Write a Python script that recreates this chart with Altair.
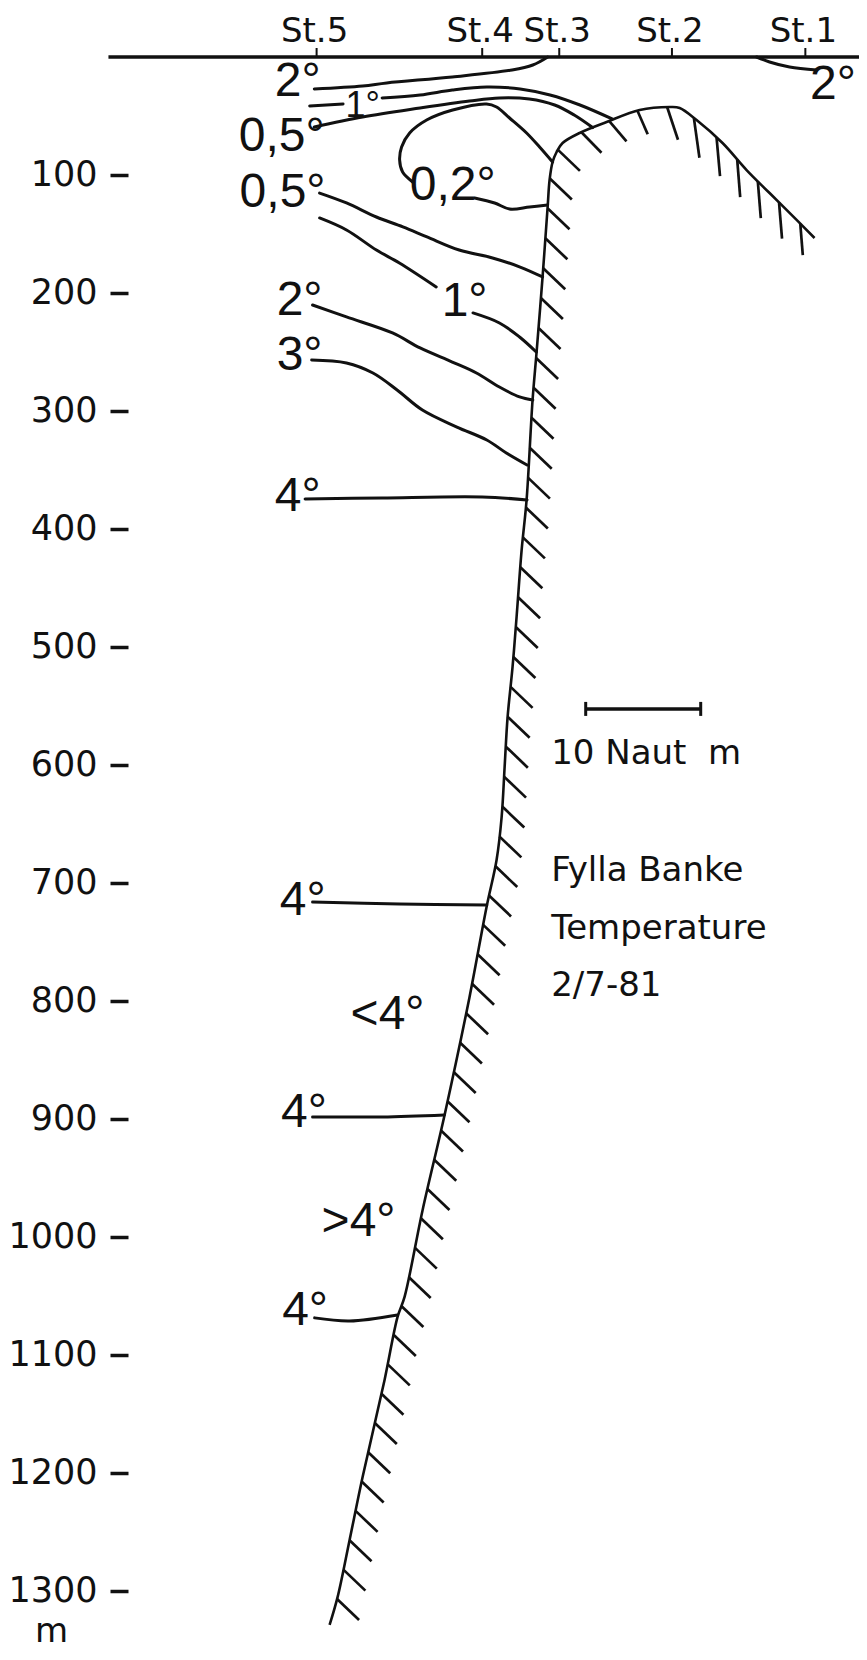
import altair as alt
import numpy as np
import pandas as pd

# ---------------- values ----------------
# horizontal: nautical miles east of St.5 ; vertical: depth in metres
station_names = ["St.5", "St.4", "St.3", "St.2", "St.1"]
station_nm = [0.0, 14.4, 21.1, 30.9, 42.5]

surface_nm = [-18.1, 48.5]

depth_ticks = [100, 200, 300, 400, 500, 600, 700, 800, 900, 1000, 1100, 1200, 1300]

# sea floor: bank slope from the deep end up, over the top of the bank
bottom_nm = [1.13, 1.83, 2.87, 4.00, 5.91, 7.04, 7.65, 9.22, 11.13, 13.30, 14.78, 15.65,
             16.09, 16.35, 16.61, 17.04, 17.39, 17.83, 18.26, 18.78, 19.13, 19.65, 20.09,
             20.26, 20.52, 20.87, 21.39, 22.87, 25.22, 28.09, 30.70, 31.57, 33.04, 35.30,
             37.39, 39.39, 41.74, 43.30]
bottom_m = [1328.8, 1305.1, 1256.8, 1203.4, 1121.2, 1067.8, 1050.8, 977.1, 896.6, 796.6,
            720.3, 680.5, 644.1, 601.7, 559.3, 516.9, 474.6, 417.8, 375.4, 290.7, 250.0,
            186.4, 127.1, 104.2, 89.0, 80.5, 72.9, 64.4, 55.1, 44.9, 42.4, 43.2, 53.4,
            72.9, 95.8, 115.3, 138.1, 153.4]

# isotherms (each piece of line between labels)
iso_2_surface_nm = [-0.2, 4.0, 6.1, 11.8, 17.0, 18.8, 20.1]
iso_2_surface_m = [27.1, 24.6, 22.0, 16.9, 11.0, 6.8, 0.0]

iso_1_top_left_nm = [-0.6, 2.3]
iso_1_top_left_m = [41.5, 39.8]

iso_1_top_nm = [5.7, 9.0, 11.8, 14.8, 17.7, 20.3, 22.9, 25.7]
iso_1_top_m = [34.7, 32.2, 28.0, 25.4, 27.1, 32.2, 40.7, 52.5]

iso_05_top_nm = [-0.2, 4.0, 9.0, 13.3, 15.9, 18.5, 20.7, 22.4, 24.0]
iso_05_top_m = [59.3, 50.8, 43.2, 37.3, 34.7, 35.6, 40.7, 49.2, 59.8]

iso_02_core_nm = [8.35, 7.48, 7.22, 7.39, 8.09, 9.57, 11.83, 14.78, 15.65, 16.78, 18.26, 19.39, 20.52]
iso_02_core_m = [105.9, 97.5, 87.3, 76.3, 64.4, 53.4, 44.9, 39.8, 42.4, 51.7, 64.4, 76.3, 89.0]

iso_02_right_nm = [13.74, 15.48, 16.78, 18.52, 20.09]
iso_02_right_m = [119.5, 123.7, 128.8, 127.1, 125.4]

iso_05_nm = [0.26, 2.6, 5.2, 7.5, 9.6, 12.4, 15.3, 17.7, 19.65]
iso_05_m = [115.3, 123.7, 135.6, 144.0, 152.5, 163.6, 170.3, 178.0, 186.4]

iso_1_left_nm = [0.26, 2.6, 5.2, 7.2, 10.4]
iso_1_left_m = [136.4, 146.6, 163.6, 174.6, 194.9]

iso_1_right_nm = [13.6, 15.9, 17.65, 19.1]
iso_1_right_m = [216.9, 225.4, 237.3, 250.0]

iso_2_nm = [-0.35, 2.6, 6.6, 9.0, 11.8, 13.9, 15.9, 17.65, 18.8]
iso_2_m = [210.2, 220.3, 233.9, 246.6, 258.5, 267.8, 279.7, 288.1, 290.7]

iso_3_nm = [-0.43, 2.6, 4.9, 7.0, 9.2, 12.2, 14.8, 16.5, 18.3]
iso_3_m = [256.8, 259.3, 267.8, 282.2, 299.2, 313.6, 324.6, 335.6, 345.8]

iso_4a_nm = [-1.0, 5.7, 14.4, 18.3]
iso_4a_m = [374.6, 373.7, 372.9, 375.4]

iso_4b_nm = [-0.35, 7.2, 14.8]
iso_4b_m = [716.1, 717.8, 718.6]

iso_4c_nm = [-0.35, 5.7, 11.1]
iso_4c_m = [898.3, 898.3, 896.6]

iso_4d_nm = [-0.17, 2.87, 7.04]
iso_4d_m = [1068.6, 1071.2, 1066.1]

iso_2_east_nm = [38.26, 39.39, 41.13, 43.48]
iso_2_east_m = [0.0, 4.2, 8.5, 11.0]

# isotherm labels (centre x, depth of the text baseline)
temp_labels = ["2°", "0,5°", "0,5°", "0,2°", "1°", "2°", "3°", "4°", "4°", "<4°", "4°", ">4°", "4°", "2°"]
temp_label_nm = [-1.65, -3.04, -2.96, 11.83, 12.87, -1.48, -1.48, -1.65, -1.2, 6.17, -1.1, 3.65, -1.0, 44.9]
temp_label_m = [33.0, 80.0, 127.5, 121.5, 219.5, 218.5, 265.5, 385.0, 727.5, 823.5, 906.5, 999.5, 1075.0, 36.0]

small_labels = ["1°"]
small_label_nm = [4.0]
small_label_m = [50.8]

# scale bar of 10 nautical miles and the caption block
scale_bar_nm = [23.4, 33.4]
scale_bar_m = 552.5
info_lines = ["10 Naut\u00a0\u00a0m", "Fylla Banke", "Temperature", "2/7-81"]
info_nm = 20.4
info_m = [590.7, 689.8, 739.0, 787.3]

# ---------------- layout / style ----------------
PX_NM = 11.5      # pixels per nautical mile
PX_M = 1.18       # pixels per metre
W = 731           # keeps the whole drawing inside the 851 px wide page body
X_MIN = -16.4
X_MAX = X_MIN + W / PX_NM
D_MAX = 1345
H = int(round(D_MAX * PX_M))
SANS = "DejaVu Sans"
TEMP_FONT = "Liberation Sans"
INK = "#111111"

x_scale = alt.Scale(domain=[X_MIN, X_MAX], nice=False, zero=False)
y_scale = alt.Scale(domain=[0, D_MAX], reverse=True, nice=False, zero=False)
y_axis = alt.Axis(values=depth_ticks, format="d", title="m", titleAngle=0, titleX=-77,
                  titleY=1574, titleAlign="center", titleBaseline="middle", titleFont=SANS,
                  titleFontSize=34, titleFontWeight="normal", titleColor=INK,
                  labelFont=SANS, labelFontSize=35, labelColor=INK, labelPadding=13,
                  labelFlush=False, labelOverlap=False, tickSize=18, tickWidth=3.5,
                  tickColor=INK, domain=False, grid=False)


def X(field):
    return alt.X(field, type="quantitative", scale=x_scale, axis=None)


def Y(field):
    return alt.Y(field, type="quantitative", scale=y_scale, axis=y_axis)


# contour table
pieces = {
    "2 surface": (iso_2_surface_nm, iso_2_surface_m),
    "1 top left": (iso_1_top_left_nm, iso_1_top_left_m),
    "1 top": (iso_1_top_nm, iso_1_top_m),
    "0.5 top": (iso_05_top_nm, iso_05_top_m),
    "0.2 core": (iso_02_core_nm, iso_02_core_m),
    "0.2 right": (iso_02_right_nm, iso_02_right_m),
    "0.5": (iso_05_nm, iso_05_m),
    "1 left": (iso_1_left_nm, iso_1_left_m),
    "1 right": (iso_1_right_nm, iso_1_right_m),
    "2": (iso_2_nm, iso_2_m),
    "3": (iso_3_nm, iso_3_m),
    "4a": (iso_4a_nm, iso_4a_m),
    "4b": (iso_4b_nm, iso_4b_m),
    "4c": (iso_4c_nm, iso_4c_m),
    "4d": (iso_4d_nm, iso_4d_m),
    "2 east": (iso_2_east_nm, iso_2_east_m),
}
rows = []
for name, (xs, ds) in pieces.items():
    for i, (a, b) in enumerate(zip(xs, ds)):
        rows.append({"piece": name, "ord": i, "nm": a, "m": b})
iso_df = pd.DataFrame(rows)

bottom_df = pd.DataFrame({"nm": bottom_nm, "m": bottom_m, "ord": range(len(bottom_nm))})

# hatching under the sea floor line (decoration following the floor line)
HATCH_STEP = 30.0
HATCH_START = 27.0
hatch_dir_nm = [20.9, 25.2, 27.7, 29.4, 31.2, 33.0, 35.3, 41.0, 43.3]
hatch_dx = [22, 18, 10, 12, 10, 5, 3, 3, 2]
hatch_dy = [21, 20, 23, 27, 36, 40, 38, 36, 26]
bx = np.array(bottom_nm) * PX_NM
by = np.array(bottom_m) * PX_M
arc = np.concatenate([[0.0], np.cumsum(np.hypot(np.diff(bx), np.diff(by)))])
s = np.arange(HATCH_START, arc[-1] - 5, HATCH_STEP)
hx = np.interp(s, arc, bx)
hy = np.interp(s, arc, by)
hdx = np.interp(hx / PX_NM, hatch_dir_nm, hatch_dx)
hdy = np.interp(hx / PX_NM, hatch_dir_nm, hatch_dy)
hatch_df = pd.DataFrame({"nm": hx / PX_NM, "m": hy / PX_M,
                         "nm2": (hx + hdx) / PX_NM, "m2": (hy + hdy) / PX_M})

surface_df = pd.DataFrame({"nm": [surface_nm[0]], "nm2": [surface_nm[1]], "m": [0.0]})
station_df = pd.DataFrame({"name": station_names, "nm": station_nm, "m": [0.0] * len(station_nm)})
temp_df = pd.DataFrame({"label": temp_labels, "nm": temp_label_nm, "m": temp_label_m})
small_df = pd.DataFrame({"label": small_labels, "nm": small_label_nm, "m": small_label_m})
bar_df = pd.DataFrame({"nm": [scale_bar_nm[0]], "nm2": [scale_bar_nm[1]], "m": [scale_bar_m]})
bar_end_df = pd.DataFrame({"nm": scale_bar_nm, "m": [scale_bar_m] * 2})
info_df = pd.DataFrame({"text": info_lines, "nm": [info_nm] * len(info_lines), "m": info_m})

surface = alt.Chart(surface_df).mark_rule(color=INK, strokeWidth=3.5).encode(
    x=X("nm"), x2="nm2", y=Y("m"))

station_ticks = alt.Chart(station_df).mark_rule(color=INK, strokeWidth=2, y2Offset=-9).encode(
    x=X("nm"), y=Y("m"), y2="m")

station_text = alt.Chart(station_df).mark_text(
    font=SANS, fontSize=34, color=INK, align="center", baseline="alphabetic", dy=-15, dx=-2
).encode(x=X("nm"), y=Y("m"), text="name:N")

bottom_line = alt.Chart(bottom_df).mark_line(
    color=INK, strokeWidth=2.6, interpolate="catmull-rom").encode(
    x=X("nm"), y=Y("m"), order="ord:Q")

hatches = alt.Chart(hatch_df).mark_rule(color=INK, strokeWidth=2.7).encode(
    x=X("nm"), y=Y("m"), x2="nm2", y2="m2")

isotherms = alt.Chart(iso_df).mark_line(
    color=INK, strokeWidth=3, interpolate="catmull-rom", strokeCap="round").encode(
    x=X("nm"), y=Y("m"), detail="piece:N", order="ord:Q")

temp_text = alt.Chart(temp_df).mark_text(
    font=TEMP_FONT, fontSize=48, color=INK, align="center", baseline="alphabetic"
).encode(x=X("nm"), y=Y("m"), text="label:N")

small_text = alt.Chart(small_df).mark_text(
    font=TEMP_FONT, fontSize=36, color=INK, align="center", baseline="alphabetic"
).encode(x=X("nm"), y=Y("m"), text="label:N")

scale_bar = alt.Chart(bar_df).mark_rule(color=INK, strokeWidth=3.5).encode(
    x=X("nm"), x2="nm2", y=Y("m"))

scale_bar_ends = alt.Chart(bar_end_df).mark_rule(
    color=INK, strokeWidth=3, yOffset=-7, y2Offset=7).encode(
    x=X("nm"), y=Y("m"), y2="m")

info_text = alt.Chart(info_df).mark_text(
    font=SANS, fontSize=34, color=INK, align="left", baseline="middle"
).encode(x=X("nm"), y=Y("m"), text="text:N")

chart = alt.layer(
    bottom_line, hatches, surface, station_ticks, station_text, isotherms,
    temp_text, small_text, scale_bar, scale_bar_ends, info_text
).properties(
    width=W, height=H,
    padding={"left": 120, "top": 49, "right": 0, "bottom": 4},
    autosize=alt.AutoSizeParams(type="none"),
    background="white",
).configure_view(strokeWidth=0)

chart.save("out.html", embed_options={"renderer": "svg", "actions": False})
